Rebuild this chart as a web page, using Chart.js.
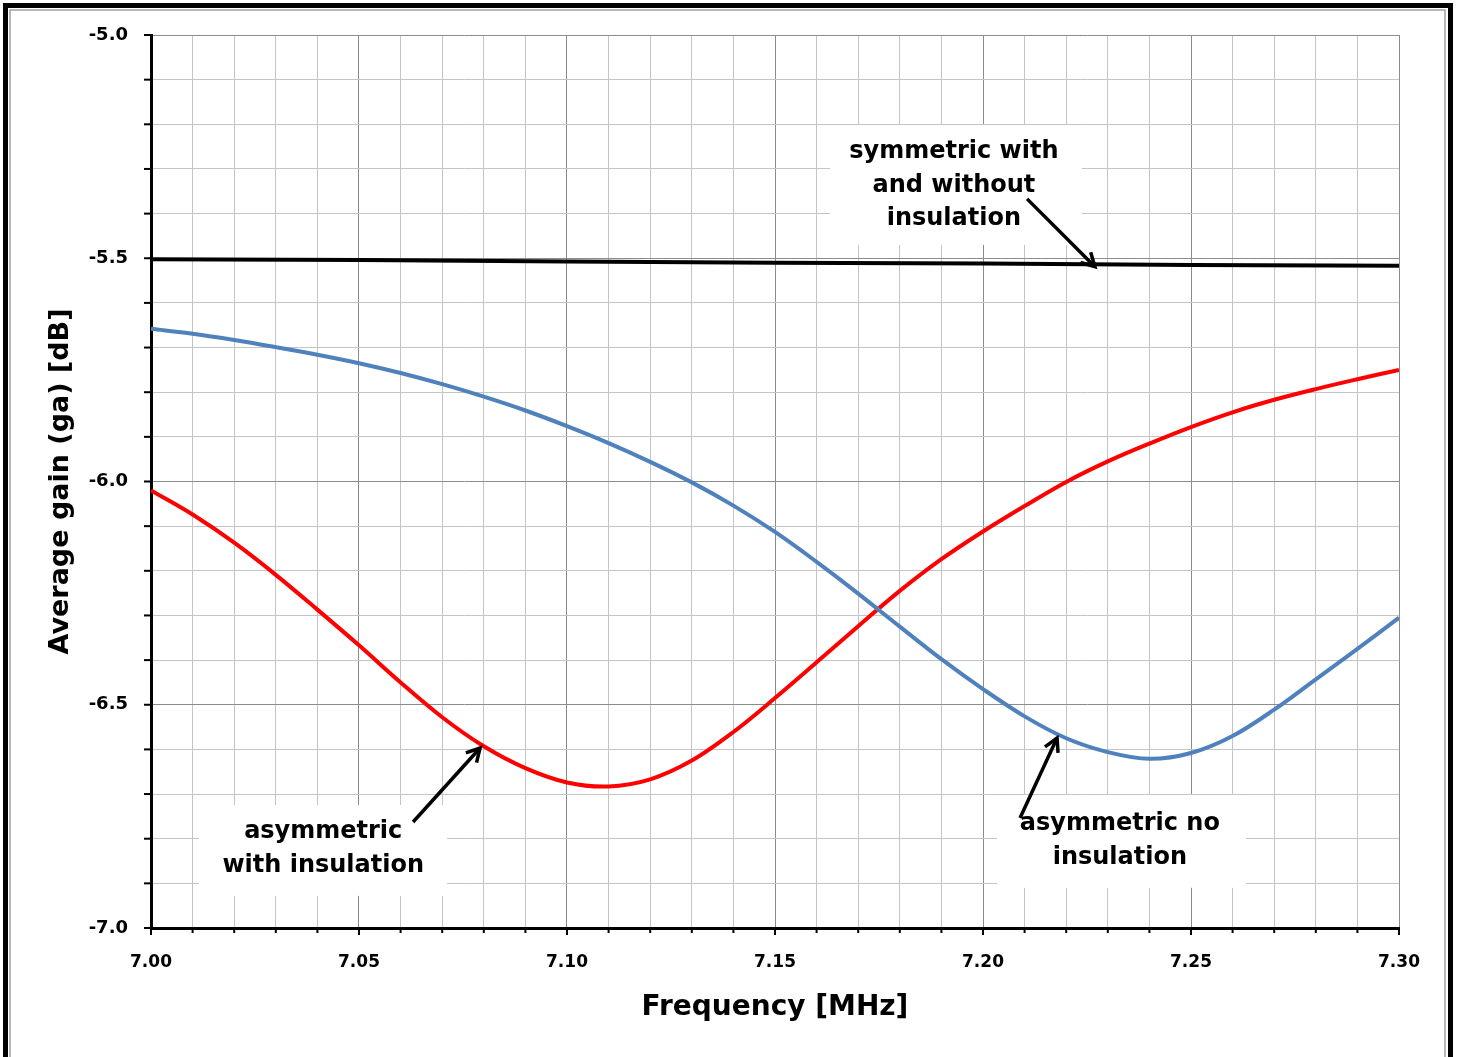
<!DOCTYPE html>
<html>
<head>
<meta charset="utf-8">
<script src="https://cdn.jsdelivr.net/npm/chart.js@4.4.0/dist/chart.umd.min.js"></script>
<style>
  html, body { margin: 0; padding: 0; background: #fff; }
  canvas { display: block; }
</style>
</head>
<body>
<canvas id="gainChart" width="1458" height="1057"></canvas>
<script>
// frequency points [MHz]
var freqs = [7.00, 7.01, 7.02, 7.03, 7.04, 7.05, 7.06, 7.07, 7.08, 7.09,
             7.10, 7.11, 7.12, 7.13, 7.14, 7.15, 7.16, 7.17, 7.18, 7.19,
             7.20, 7.21, 7.22, 7.23, 7.24, 7.25, 7.26, 7.27, 7.28, 7.29, 7.30];

// average gain [dB], asymmetric no insulation (blue)
var asymNoIns = [-5.658, -5.669, -5.683, -5.699, -5.716, -5.735, -5.757, -5.782, -5.810, -5.841,
                 -5.876, -5.914, -5.956, -6.002, -6.054, -6.113, -6.180, -6.251, -6.325, -6.398,
                 -6.465, -6.526, -6.575, -6.606, -6.621, -6.608, -6.570, -6.511, -6.443, -6.375, -6.305];

// average gain [dB], asymmetric with insulation (red)
var asymWithIns = [-6.020, -6.074, -6.137, -6.209, -6.287, -6.367, -6.450, -6.528, -6.593, -6.642,
                   -6.674, -6.683, -6.667, -6.625, -6.561, -6.485, -6.405, -6.324, -6.245, -6.174,
                   -6.112, -6.055, -6.001, -5.955, -5.915, -5.878, -5.845, -5.817, -5.793, -5.771, -5.750];

// symmetric with and without insulation (black)
var symFreqs = [7.00, 7.05, 7.10, 7.15, 7.20, 7.25, 7.30];
var symGain = [-5.502, -5.504, -5.507, -5.510, -5.512, -5.515, -5.517];

// annotation texts + where they sit (data units)
var noteLines = [
    ["symmetric with", "and without", "insulation"],
    ["asymmetric", "with insulation"],
    ["asymmetric no", "insulation"]
];
var noteAnchor = [[7.1930, -5.2620], [7.0414, -6.7850], [7.2329, -6.7670]];
var noteBox = [
    [7.1632, -5.2016, 7.2238, -5.4700],
    [7.0115, -6.7245, 7.0712, -6.9280],
    [7.2034, -6.7020, 7.2632, -6.9100]
];
var noteArrow = [
    [7.2106, -5.3670, 7.2269, -5.5190],
    [7.0630, -6.7626, 7.0791, -6.5969],
    [7.2089, -6.7536, 7.2178, -6.5745]
];

const FONT = "'DejaVu Sans', sans-serif";

const pts = (xs, ys) => xs.map((x, i) => ({ x: x, y: ys[i] }));
const majorX = v => Math.round(v * 100) % 5 === 0;
const majorY = v => Math.round(v * 10) % 5 === 0;

/*
 * frame, white label boxes, texts, arrows and black tick marks
 */
const decor = {
    id: 'decor',
    beforeDraw(chart) {
        const c = chart.ctx;
        c.save();
        c.fillStyle = '#fff';
        c.fillRect(0, 0, chart.width, chart.height);
        c.restore();
    },
    beforeDatasetsDraw(chart) {
        const c = chart.ctx, sx = chart.scales.x, sy = chart.scales.y;
        c.save();
        // label boxes hide the grid
        c.fillStyle = '#fff';
        noteBox.forEach(b => {
            const x1 = sx.getPixelForValue(b[0]), y1 = sy.getPixelForValue(b[1]);
            const x2 = sx.getPixelForValue(b[2]), y2 = sy.getPixelForValue(b[3]);
            c.fillRect(x1, y1, x2 - x1, y2 - y1);
        });
        c.fillStyle = '#000';
        c.font = 'bold 24px ' + FONT;
        c.textAlign = 'center';
        c.textBaseline = 'middle';
        noteLines.forEach((lines, i) => {
            const x = sx.getPixelForValue(noteAnchor[i][0]);
            const y = sy.getPixelForValue(noteAnchor[i][1]);
            lines.forEach((t, j) => c.fillText(t, x, y + j * 33.5));
        });
        // tick marks
        c.strokeStyle = '#000';
        c.lineWidth = 2;
        sx.ticks.forEach(t => {
            const x = sx.getPixelForValue(t.value);
            c.beginPath();
            c.moveTo(x, sx.top);
            c.lineTo(x, sx.top + (majorX(t.value) ? 7 : 5));
            c.stroke();
        });
        sy.ticks.forEach(t => {
            const y = sy.getPixelForValue(t.value);
            c.beginPath();
            c.moveTo(sy.right, y);
            c.lineTo(sy.right - 7, y);
            c.stroke();
        });
        c.restore();
    },
    afterDatasetsDraw(chart) {
        const c = chart.ctx, sx = chart.scales.x, sy = chart.scales.y;
        c.save();
        c.strokeStyle = '#000';
        c.lineWidth = 3.5;
        c.lineCap = 'butt';
        c.lineJoin = 'miter';
        noteArrow.forEach(a => {
            const x1 = sx.getPixelForValue(a[0]), y1 = sy.getPixelForValue(a[1]);
            const x2 = sx.getPixelForValue(a[2]), y2 = sy.getPixelForValue(a[3]);
            const ang = Math.atan2(y2 - y1, x2 - x1);
            c.beginPath();
            c.moveTo(x1, y1);
            c.lineTo(x2, y2);
            c.stroke();
            c.beginPath();
            c.moveTo(x2 - 15 * Math.cos(ang - 0.5), y2 - 15 * Math.sin(ang - 0.5));
            c.lineTo(x2, y2);
            c.lineTo(x2 - 15 * Math.cos(ang + 0.5), y2 - 15 * Math.sin(ang + 0.5));
            c.stroke();
        });
        c.restore();
    },
    afterDraw(chart) {
        const c = chart.ctx;
        c.save();
        c.strokeStyle = '#a0a0a0';
        c.lineWidth = 1.5;
        c.strokeRect(10, 10, 1435, 1060);
        c.strokeStyle = '#000';
        c.lineWidth = 5;
        c.strokeRect(5.5, 5.5, 1445, 1070);
        c.restore();
    }
};

new Chart('gainChart', {
    type: 'line',
    data: {
        datasets: [
            {
                data: pts(symFreqs, symGain),
                borderColor: '#000000',
                borderWidth: 4,
                pointRadius: 0,
                tension: 0
            },
            {
                data: pts(freqs, asymNoIns),
                borderColor: '#4f81bd',
                borderWidth: 4,
                pointRadius: 0,
                tension: 0.35
            },
            {
                data: pts(freqs, asymWithIns),
                borderColor: '#ff0000',
                borderWidth: 4,
                pointRadius: 0,
                tension: 0.35
            }
        ]
    },
    options: {
        responsive: false,
        animation: false,
        events: [],
        layout: { padding: { left: 10, right: 59, top: 35, bottom: 10 } },
        plugins: {
            legend: { display: false },
            tooltip: { enabled: false }
        },
        scales: {
            x: {
                type: 'linear',
                min: 7.0,
                max: 7.3,
                afterFit: s => { s.height = 119; },
                grid: {
                    drawTicks: false,
                    color: ctx => majorX(ctx.tick.value) ? '#8c8c8c' : '#c4c4c4',
                    lineWidth: 1
                },
                border: { color: '#000', width: 3 },
                ticks: {
                    stepSize: 0.01,
                    autoSkip: false,
                    maxRotation: 0,
                    padding: 24,
                    color: '#000',
                    font: { family: FONT, size: 17, weight: 'bold' },
                    callback: v => majorX(v) ? v.toFixed(2) : ''
                },
                title: {
                    display: true,
                    text: 'Frequency [MHz]',
                    color: '#000',
                    font: { family: FONT, size: 28, weight: 'bold' },
                    padding: { top: 0, bottom: 22 }
                }
            },
            y: {
                min: -7.0,
                max: -5.0,
                afterFit: s => { s.width = 141; },
                grid: {
                    drawTicks: false,
                    color: ctx => majorY(ctx.tick.value) ? '#8c8c8c' : '#c4c4c4',
                    lineWidth: 1
                },
                border: { color: '#000', width: 3 },
                ticks: {
                    stepSize: 0.1,
                    autoSkip: false,
                    padding: 23,
                    color: '#000',
                    font: { family: FONT, size: 18, weight: 'bold' },
                    callback: v => majorY(v) ? v.toFixed(1) : ''
                },
                title: {
                    display: true,
                    text: 'Average gain (ga) [dB]',
                    color: '#000',
                    font: { family: FONT, size: 27, weight: 'bold' },
                    padding: { top: 35, bottom: 0 }
                }
            }
        }
    },
    plugins: [decor]
});
</script>
</body>
</html>
